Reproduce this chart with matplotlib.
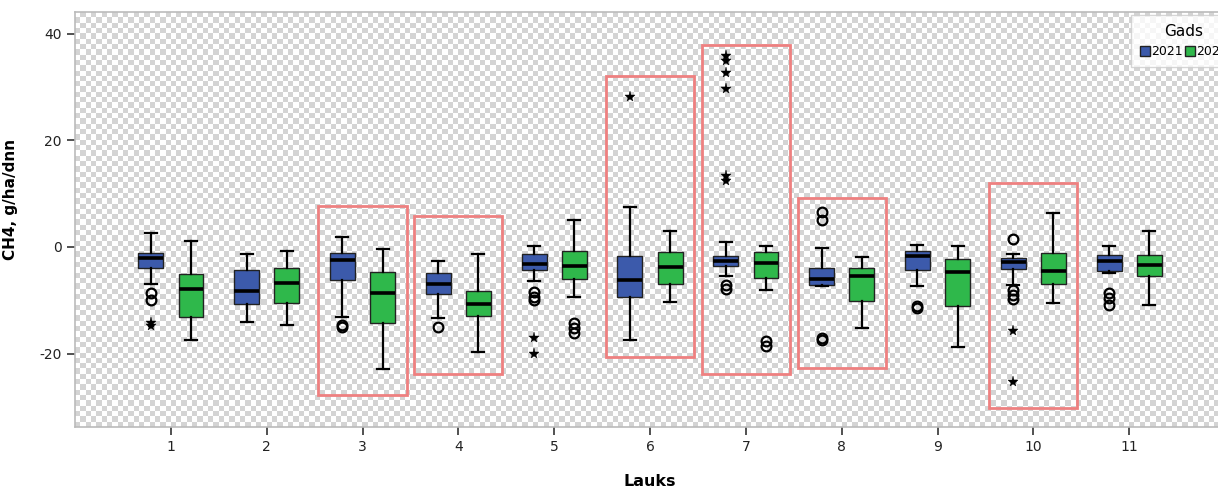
import numpy as np
import matplotlib
matplotlib.use("Agg")
import matplotlib.pyplot as plt
from matplotlib.patches import Patch, Rectangle

plt.rcParams["axes.unicode_minus"] = False

# ---------------- data ----------------
categories = [1, 2, 3, 4, 5, 6, 7, 8, 9, 10, 11]
years = ["2021", "2022"]

# 2021
whishi_21 = [2.6, -1.4, 1.9, -2.7, 0.1, 7.5, 0.9, -0.1, 0.4, -1.3, 0.2]
q3_21     = [-1.1, -4.4, -1.1, -4.8, -1.3, -1.6, -1.7, -3.9, -0.7, -2.1, -1.5]
med_21    = [-2.0, -8.2, -2.5, -6.9, -3.2, -6.2, -2.6, -6.0, -1.7, -2.9, -2.6]
q1_21     = [-3.9, -10.7, -6.2, -8.8, -4.3, -9.3, -3.6, -7.2, -4.3, -4.2, -4.5]
whislo_21 = [-7.0, -14.0, -13.1, -13.3, -6.4, -17.4, -5.4, -7.3, -7.3, -7.1, -4.9]
circles_21 = [[-8.7, -10.0], [], [-14.6, -15.0], [-15.0], [-8.5, -9.3, -10.0], [],
              [-7.2, -7.8], [6.6, 5.0, -17.0, -17.4], [-11.0, -11.4],
              [1.5, -8.0, -9.0, -9.8], [-8.7, -9.6, -10.8]]
stars_21 = [[-14.2, -14.8], [], [], [], [-17.1, -20.0], [28.1],
            [35.9, 34.8, 32.7, 29.7, 13.3, 12.3], [], [], [-15.8, -25.4], []]

# 2022
whishi_22 = [1.1, -0.7, -0.4, -1.4, 5.0, 3.0, 0.1, -1.8, 0.1, 6.3, 3.0]
q3_22     = [-5.1, -3.9, -4.7, -8.2, -0.7, -0.9, -0.9, -3.9, -2.3, -1.1, -1.5]
med_22    = [-7.9, -6.8, -8.7, -10.7, -3.6, -3.7, -3.0, -5.4, -4.6, -4.5, -3.4]
q1_22     = [-13.1, -10.5, -14.3, -13.0, -6.0, -6.9, -5.9, -10.1, -11.0, -7.0, -5.5]
whislo_22 = [-17.4, -14.6, -22.9, -19.6, -9.3, -10.4, -8.0, -15.1, -18.8, -10.5, -10.8]
circles_22 = [[], [], [], [], [-14.3, -15.2, -16.1], [], [-17.7, -18.6], [], [], [], []]
stars_22 = [[], [], [], [], [], [], [], [], [], [], []]

# highlighted fields (annotation rectangles): category, y low, y high
highlight_cats = [3, 4, 6, 7, 8, 10]
highlight_lo = [-27.8, -23.8, -20.6, -23.9, -22.7, -30.2]
highlight_hi = [7.7, 5.9, 32.0, 37.9, 9.2, 12.0]

y_ticks = [-20, 0, 20, 40]
x_label = "Lauks"
y_label = "CH4, g/ha/dnn"
legend_title = "Gads"

# ---------------- style ----------------
blue = "#3c5aab"
green = "#2fb84b"
W, H = 1218, 492
fig = plt.figure(figsize=(W / 100, H / 100), dpi=100)
ax_left, ax_bottom = 75 / W, 65 / H
ax_w, ax_h = 1150 / W, (427 - 12) / H
ax = fig.add_axes([ax_left, ax_bottom, ax_w, ax_h])
ax.set_xlim(0, 12)
ax.set_ylim(-33.75, 44.06)

# checkerboard background
sq = 5.33
nx = int(np.ceil(1150 / sq))
ny = int(np.ceil(415 / sq))
cb = (np.add.outer(np.arange(ny), np.arange(nx)) % 2).astype(float)
ax.imshow(cb, cmap=matplotlib.colors.ListedColormap(["#ffffff", "#d4d4d4"]),
          extent=(0, 1, 0, 1), transform=ax.transAxes, aspect="auto",
          interpolation="nearest", zorder=0)

offset = 0.21
bw = 0.26


def make_stats(lo, q1, med, q3, hi):
    return [dict(whislo=a, q1=b, med=c, q3=d, whishi=e, fliers=[])
            for a, b, c, d, e in zip(lo, q1, med, q3, hi)]


series = [
    (make_stats(whislo_21, q1_21, med_21, q3_21, whishi_21), circles_21, stars_21, blue, -offset),
    (make_stats(whislo_22, q1_22, med_22, q3_22, whishi_22), circles_22, stars_22, green, offset),
]

for stats, circ, stars, col, off in series:
    pos = [c + off for c in categories]
    ax.bxp(stats, positions=pos, widths=bw, patch_artist=True, showfliers=False,
           boxprops=dict(facecolor=col, edgecolor="#222222", linewidth=1.0),
           medianprops=dict(color="black", linewidth=2.6, solid_capstyle="butt"),
           whiskerprops=dict(color="black", linewidth=1.6),
           capprops=dict(color="black", linewidth=1.6), capwidths=0.125,
           manage_ticks=False, zorder=3)
    for p, cl, st in zip(pos, circ, stars):
        if cl:
            ax.plot([p] * len(cl), cl, linestyle="none", marker="o", ms=7,
                    mfc="none", mec="black", mew=1.6, zorder=4)
        if st:
            ax.plot([p] * len(st), st, linestyle="none", marker="*", ms=8,
                    mfc="black", mec="black", mew=0.3, zorder=4)

for c, lo, hi in zip(highlight_cats, highlight_lo, highlight_hi):
    ax.add_patch(Rectangle((c - 0.46, lo), 0.92, hi - lo, fill=False,
                           edgecolor="#ee8080", linewidth=2.0, zorder=5))

ax.set_xticks(categories)
ax.set_xticklabels([str(c) for c in categories])
ax.set_yticks(y_ticks)
ax.tick_params(axis="both", labelsize=10, colors="#333333", length=6, width=1.2,
               labelcolor="#222222")
for s in ax.spines.values():
    s.set_color("#bbbbbb")
    s.set_linewidth(1.2)

ax.set_xlabel(x_label, fontsize=11.5, fontweight="bold", labelpad=14)
ax.set_ylabel(y_label, fontsize=11, fontweight="bold")
ax.yaxis.set_label_coords(-57 / 1150, 0.5 + 20 / 415)

handles = [Patch(facecolor=blue, edgecolor="#222222", label=years[0]),
           Patch(facecolor=green, edgecolor="#222222", label=years[1])]
leg = fig.legend(handles=handles, title=legend_title, ncol=2, loc="upper left",
                 bbox_to_anchor=(1131 / W, 1 - 15 / H), fontsize=9,
                 title_fontsize=11, frameon=True, fancybox=False,
                 handlelength=0.8, handleheight=0.9, handletextpad=0.15,
                 columnspacing=0.1, borderpad=0.7, borderaxespad=0)
leg.get_frame().set_edgecolor("#cccccc")
leg.get_frame().set_linewidth(1.0)

fig.savefig("out.png", dpi=100)
